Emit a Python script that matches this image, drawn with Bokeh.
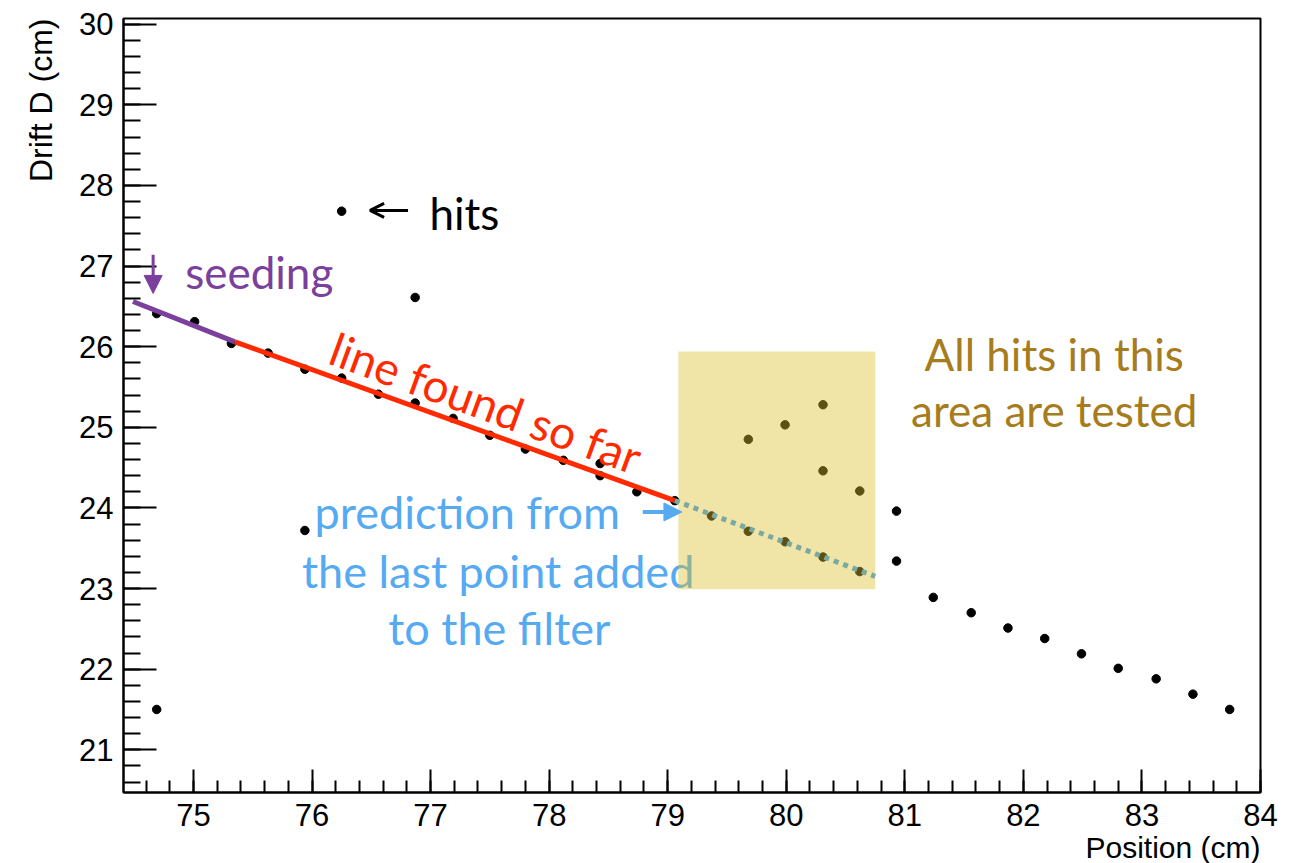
from bokeh.plotting import figure
from bokeh.models import Range1d, SingleIntervalTicker, Arrow, NormalHead, OpenHead, Title
from bokeh.core.properties import value
from bokeh.embed import file_html
from bokeh.resources import INLINE

# Hits: wire position (cm) and drift distance (cm)
hit_pos = [74.69, 74.69, 75.01, 75.32, 75.63, 75.94, 75.94, 76.25, 76.25, 76.56,
           76.87, 76.87, 77.19, 77.50, 77.80, 78.12, 78.43, 78.43, 78.74, 79.06,
           79.37, 79.68, 79.68, 79.99, 79.99, 80.31, 80.31, 80.31, 80.62, 80.62,
           80.93, 80.93, 81.24, 81.56, 81.87, 82.18, 82.49, 82.80, 83.12, 83.43,
           83.74]
hit_drift = [26.41, 21.50, 26.31, 26.04, 25.92, 25.72, 23.72, 25.61, 27.68, 25.41,
             25.30, 26.61, 25.11, 24.90, 24.73, 24.59, 24.55, 24.40, 24.20, 24.09,
             23.90, 23.71, 24.85, 23.58, 25.03, 23.39, 24.46, 25.28, 23.21, 24.21,
             23.96, 23.34, 22.89, 22.70, 22.51, 22.38, 22.19, 22.01, 21.88, 21.69,
             21.50]

# Seed segment, fitted track so far, and the extrapolated prediction
seed_pos = [74.49, 75.35]
seed_drift = [26.56, 26.06]
track_pos = [75.35, 79.06]
track_drift = [26.06, 24.09]
pred_pos = [79.06, 80.75]
pred_drift = [24.09, 23.15]

# Search window around the prediction
window_pos = [79.09, 80.75]
window_drift = [22.99, 25.94]

PURPLE = "#7b3f9d"
RED = "#ff2a00"
BLUE = "#55aaf2"
GOLD = "#a67c1c"
TEAL = "#7aa8a2"
AXIS_FONT = "Liberation Sans"
NOTE_FONT = "Lato"

p = figure(width=1304, height=863,
           x_range=Range1d(74.41, 84.0), y_range=Range1d(20.47, 30.07),
           output_backend="svg", toolbar_location=None,
           min_border_left=123, min_border_right=44,
           min_border_top=18, min_border_bottom=69)
p.xgrid.visible = False
p.ygrid.visible = False
p.outline_line_color = "black"
p.outline_line_width = 2
p.background_fill_color = "white"

p.xaxis.ticker = SingleIntervalTicker(interval=1, num_minor_ticks=5)
p.yaxis.ticker = SingleIntervalTicker(interval=1, num_minor_ticks=5)
for ax in (p.xaxis[0], p.yaxis[0]):
    ax.major_tick_out = 0
    ax.minor_tick_out = 0
    ax.axis_line_width = 2
    ax.axis_line_color = "black"
    ax.major_tick_line_width = 2
    ax.minor_tick_line_width = 2
    ax.major_tick_line_color = "black"
    ax.minor_tick_line_color = "black"
    ax.major_label_text_font = AXIS_FONT
    ax.major_label_text_font_size = "31px"
    ax.major_label_text_color = "black"

p.xaxis.major_tick_in = 23
p.xaxis.minor_tick_in = 12
p.xaxis.major_label_standoff = 11
p.yaxis.major_tick_in = 33
p.yaxis.minor_tick_in = 17
p.yaxis.major_label_standoff = 10

# Axis titles, pushed to the far ends of the axes
p.add_layout(Title(text="Position (cm)", align="right", text_font=AXIS_FONT,
                   text_font_size="30px", text_font_style="normal",
                   text_color="black", standoff=0), "below")
p.add_layout(Title(text="Drift D (cm)", align="right", text_font=AXIS_FONT,
                   text_font_size="32px", text_font_style="normal",
                   text_color="black", standoff=36), "left")

# Hits
p.scatter(hit_pos, hit_drift, size=8.5, color="black")

# Blue explanation text (sits under the search window)
p.text(x=[77.31, 77.57, 77.58], y=[23.95, 23.22, 22.51],
       text=["prediction from", "the last point added", "to the filter"],
       text_font=value(NOTE_FONT), text_font_size="45px", text_color=BLUE,
       text_align="center", text_baseline="alphabetic")

# Search window
p.quad(left=[window_pos[0]], right=[window_pos[1]],
       bottom=[window_drift[0]], top=[window_drift[1]],
       fill_color="#dbbe2b", fill_alpha=0.42, line_color=None)

# Seed and track lines
p.line(seed_pos, seed_drift, line_color=PURPLE, line_width=5)
p.line(track_pos, track_drift, line_color=RED, line_width=5)
p.line(pred_pos, pred_drift, line_color=TEAL, line_width=5, line_dash="5 5")

# Other notes
p.text(x=[76.99], y=[27.66], text=["hits"], text_font=value(NOTE_FONT),
       text_font_size="44px", text_color="black", text_baseline="alphabetic")
p.text(x=[74.93], y=[26.92], text=["seeding"], text_font=value(NOTE_FONT),
       text_font_size="44px", text_color=PURPLE, text_baseline="alphabetic")
p.text(x=[76.17], y=[26.00], text=["line found so far"], angle=-0.35,
       text_font=value(NOTE_FONT), text_font_size="46px", text_color=RED,
       text_baseline="alphabetic")
p.text(x=[82.26, 82.26], y=[25.91, 25.21],
       text=["All hits in this", "area are tested"],
       text_font=value(NOTE_FONT), text_font_size="44px", text_color=GOLD,
       text_align="center", text_baseline="alphabetic")

p.add_layout(Arrow(end=OpenHead(size=14, line_width=3, line_color="black"),
                   x_start=76.81, y_start=27.69, x_end=76.49, y_end=27.69,
                   line_width=3, line_color="black"))
p.add_layout(Arrow(end=NormalHead(size=18, fill_color=PURPLE, line_color=PURPLE),
                   x_start=74.66, y_start=27.14, x_end=74.66, y_end=26.66,
                   line_width=3, line_color=PURPLE))
p.add_layout(Arrow(end=NormalHead(size=18, fill_color=BLUE, line_color=BLUE),
                   x_start=78.79, y_start=23.95, x_end=79.12, y_end=23.95,
                   line_width=4, line_color=BLUE))

open("out.html", "w").write(file_html(p, INLINE))
